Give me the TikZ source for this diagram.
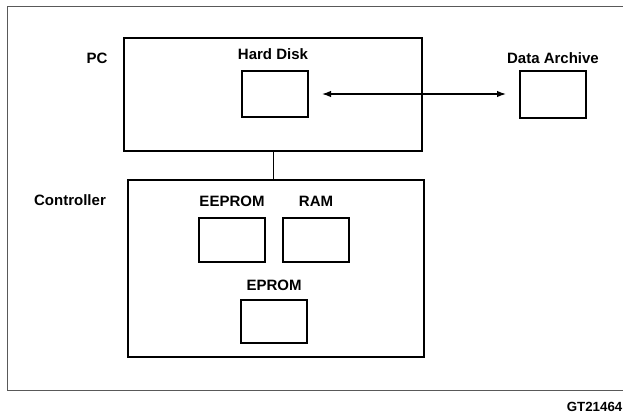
\documentclass[tikz,border=0pt]{standalone}
\usepackage{fontspec}
\setmainfont{Liberation Sans}
\usetikzlibrary{arrows.meta}
\tikzset{mytip/.tip={Latex[length=9pt,width=6.5pt]}}
\begin{document}
\begin{tikzpicture}[x=1pt,y=-1pt,
  box/.style={draw=black,line width=1.1pt,inner sep=0pt,outer sep=0pt},
  lbl/.style={font=\fontsize{15pt}{17pt}\selectfont\bfseries,inner sep=0pt,anchor=center},
  conn/.style={draw=black,line width=1pt}]
\useasboundingbox (0,0) rectangle (623,416);
\fill[white] (0,0) rectangle (623,416);
% outer frame
\draw[draw=black!65,line width=1pt] (7,6) rectangle (640,390);
% PC
\node[box,minimum width=298pt,minimum height=113pt] (pc) at (273,94.5) {};
\node[lbl] (pclbl) at (97,58) {PC};
\node[lbl] (hdlbl) at (273,54) {Hard Disk};
\node[box,minimum width=66pt,minimum height=46pt] (hd) at (275,94) {};
% Data archive
\node[lbl] (dalbl) at (553,58) {Data Archive};
\node[box,minimum width=66pt,minimum height=47pt] (da) at (553,94.5) {};
% Controller
\node[box,minimum width=296pt,minimum height=177pt] (ctrl) at (276,268.5) {};
\node[lbl] (ctrllbl) at (70,200) {Controller};
\node[lbl] (eelbl) at (232,201) {EEPROM};
\node[lbl] (ramlbl) at (316,201) {RAM};
\node[box,minimum width=66pt,minimum height=44pt] (ee) at (232,240) {};
\node[box,minimum width=66pt,minimum height=44pt] (ram) at (316,240) {};
\node[lbl] (eplbl) at (274,285) {EPROM};
\node[box,minimum width=66pt,minimum height=43pt] (ep) at (274,321.5) {};
% connectors
\draw[conn,line width=1.3pt,mytip-mytip,shorten <=14pt,shorten >=14pt] (hd.east) -- (hd.east -| da.west);
\draw[conn] (pc.south) -- (pc.south |- ctrl.north);
% figure id
\node[font=\fontsize{13.3pt}{15pt}\selectfont\bfseries,inner sep=0pt,anchor=east] (gt) at (622.5,406.5) {GT21464};
\end{tikzpicture}
\end{document}
